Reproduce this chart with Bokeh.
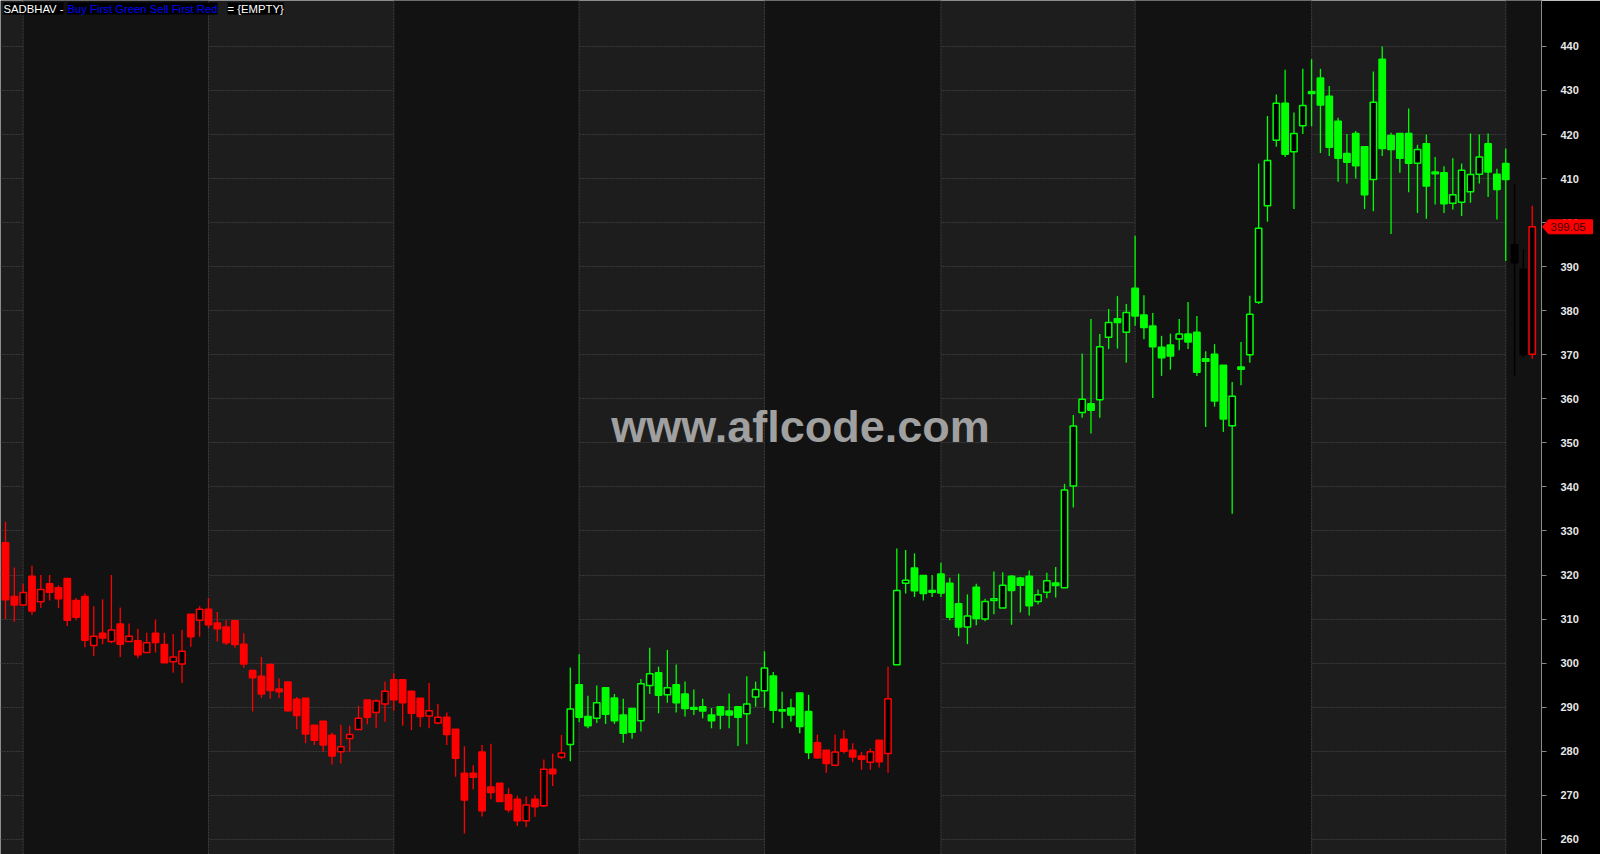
from bokeh.plotting import figure
from bokeh.models import Range1d, FixedTicker, Span, BoxAnnotation, Label, ColumnDataSource
from bokeh.core.properties import value
from bokeh.embed import file_html
from bokeh.resources import INLINE

# ---------------- data ----------------
opens = [327.3,315.1,313.2,319.7,313.9,318.0,317.1,319.2,314.2,315.1,
         304.0,306.8,304.9,308.9,304.9,305.1,302.4,306.8,304.2,300.3,
         299.8,311.1,309.7,312.2,309.1,308.2,309.6,304.3,298.3,297.0,
         299.7,294.1,295.7,291.8,292.0,285.9,286.8,283.6,279.9,282.9,
         284.9,291.6,288.8,290.7,296.2,296.2,293.6,292.0,288.0,286.4,
         287.7,285.0,275.0,275.0,279.8,271.9,272.7,270.1,269.1,264.2,
         269.1,267.6,275.9,278.6,281.5,295.1,287.9,287.5,294.4,292.1,
         288.2,289.7,286.9,294.9,297.8,292.8,295.1,293.0,289.9,290.1,
         288.2,290.1,289.1,290.1,288.5,292.3,293.7,297.1,289.4,289.8,
         293.2,289.0,281.9,280.2,276.8,282.7,280.2,278.9,277.5,282.5,
         279.5,299.6,318.1,321.6,319.9,316.5,320.2,318.1,313.5,308.2,
         317.2,310.0,314.2,312.5,319.7,319.3,319.7,314.0,316.1,318.2,
         317.1,340.2,356.9,358.9,359.8,374.0,378.2,375.1,385.1,379.0,
         376.5,371.7,372.2,373.6,374.7,375.1,369.1,370.1,367.6,353.9,
         367.2,370.0,381.9,403.8,418.7,427.1,416.1,422.0,429.7,432.8,
         428.7,423.0,415.7,420.2,417.2,409.8,437.1,419.8,420.2,420.2,
         413.5,417.9,411.5,411.3,404.4,404.6,407.0,411.0,417.9,411.0,
         413.4,395.0,389.4,370.1]
highs = [332.1,321.7,318.0,322.1,320.0,320.0,317.7,319.2,314.8,315.8,
         312.9,314.5,320.0,312.6,309.0,307.8,306.9,309.9,306.9,306.6,
         307.5,311.1,312.9,314.8,311.6,309.7,309.6,306.8,298.5,301.4,
         299.7,296.5,295.7,292.3,292.0,285.9,286.8,284.2,286.0,285.8,
         290.3,291.6,291.8,295.8,297.7,296.2,293.7,292.0,295.5,290.7,
         288.8,285.0,281.1,276.8,281.4,281.7,272.7,271.6,269.9,269.7,
         270.0,278.1,279.4,283.7,299.0,302.0,292.6,294.9,294.4,293.0,
         291.9,289.7,296.4,303.5,299.2,303.0,299.7,295.8,294.0,291.9,
         289.8,290.1,293.1,290.1,297.0,295.8,302.7,298.0,293.5,291.9,
         293.2,292.8,283.8,280.2,283.8,284.8,281.8,279.8,280.6,282.5,
         299.2,326.0,325.7,324.9,319.9,320.0,322.8,319.4,320.3,315.6,
         318.0,314.6,320.8,320.6,320.0,319.6,321.0,316.7,320.5,321.8,
         340.7,356.3,370.3,378.1,374.7,380.4,383.3,381.5,397.0,383.5,
         379.5,374.3,374.8,378.1,382.0,378.8,370.8,372.4,367.6,363.8,
         372.9,383.4,413.4,424.2,429.1,434.7,425.0,434.9,437.1,434.9,
         431.0,423.8,420.1,420.8,417.2,434.3,440.0,420.4,420.2,425.9,
         417.7,420.0,414.9,412.8,414.6,413.4,420.2,420.0,420.2,412.2,
         416.8,408.8,393.9,403.8]
lows = [310.0,309.4,313.0,311.0,312.5,314.2,312.5,308.4,309.7,303.6,
        301.6,304.3,304.5,301.4,304.8,301.1,302.3,302.4,300.0,297.8,
        295.5,303.7,306.0,307.9,304.9,304.1,303.5,298.9,289.0,292.1,
        291.9,292.1,289.0,285.0,281.8,281.4,279.9,277.0,277.2,279.9,
        284.8,286.1,285.2,286.7,289.2,285.8,284.8,285.5,285.2,286.1,
        281.4,274.2,261.3,271.3,265.2,269.1,268.6,266.1,263.0,262.8,
        265.1,267.4,272.1,278.2,277.7,286.6,285.2,286.4,286.2,286.2,
        281.9,282.8,284.5,293.0,288.6,291.0,288.8,287.9,288.2,287.5,
        285.2,285.0,285.2,281.2,281.6,290.1,289.9,286.4,285.2,286.7,
        284.1,278.2,278.3,275.1,276.6,279.5,277.5,275.8,275.8,276.3,
        275.1,299.6,315.8,315.0,314.2,315.0,315.0,309.7,306.1,304.3,
        308.6,309.5,311.1,312.5,308.7,311.5,310.8,313.3,314.7,314.9,
        317.1,335.3,355.7,352.1,355.7,371.3,371.4,368.2,376.6,373.5,
        360.2,365.2,366.6,371.0,371.3,365.2,353.6,358.2,352.5,333.9,
        363.1,368.2,381.5,400.2,417.2,414.9,403.1,420.1,421.9,415.8,
        415.1,409.3,408.9,410.0,403.1,402.6,415.1,397.4,411.3,406.9,
        402.2,400.9,404.1,402.2,403.0,401.5,404.5,408.9,405.8,400.7,
        391.3,365.2,369.5,369.1]
closes = [314.4,313.2,316.0,311.8,316.7,316.1,314.6,309.7,310.4,305.2,
          306.1,305.7,307.5,304.3,306.1,301.9,304.6,304.7,300.1,301.4,
          302.7,306.0,312.2,308.7,307.8,304.6,304.2,299.8,296.7,293.0,
          293.8,293.5,289.2,288.1,283.9,282.5,281.4,278.9,281.0,283.8,
          287.5,287.7,291.4,293.6,291.7,291.0,288.6,287.9,289.2,287.7,
          283.8,278.4,268.9,274.1,266.5,270.6,268.6,266.7,264.2,267.8,
          267.4,275.9,274.9,279.6,289.6,287.7,285.8,291.0,288.4,286.9,
          284.1,284.3,295.3,297.6,292.7,294.4,291.0,289.7,289.5,289.1,
          286.9,288.2,288.2,287.7,290.7,294.0,298.9,289.3,289.1,288.2,
          285.6,279.7,278.5,277.2,279.8,280.0,278.7,278.2,279.9,277.6,
          291.9,316.5,318.8,316.4,315.8,316.1,315.9,310.4,308.2,310.7,
          310.1,314.0,314.6,317.7,316.5,317.7,313.0,315.5,318.7,317.6,
          339.3,353.8,359.9,357.4,371.8,377.3,377.3,379.6,378.8,376.2,
          371.8,369.3,369.7,374.7,372.9,366.0,368.5,359.5,355.4,360.6,
          366.7,379.2,398.7,414.1,427.1,415.5,420.2,426.6,429.3,426.7,
          417.1,414.6,413.7,412.9,406.3,427.3,416.8,416.6,414.6,413.5,
          416.6,408.3,411.1,404.3,406.3,411.9,410.9,414.9,411.5,407.5,
          409.8,390.9,370.0,399.05]
# colour regime runs (colour, number of bars)
regime_runs = [("red", 64), ("green", 28), ("red", 9), ("green", 70), ("black", 2), ("red", 1)]
# bar index of first bar of each month (separator lines)
month_starts = [2, 23, 44, 65, 86, 106, 128, 148, 170]
y_ticks = list(range(260, 450, 10))
ticker_name = "SADBHAV"
last_price = "399.05"

# ---------------- build ----------------
palette = {"red": "#ff0000", "green": "#00ff00", "black": "#000000"}
regimes = []
for c, n in regime_runs:
    regimes += [c] * n
n = len(closes)
idx = list(range(n))
col = [palette[r] for r in regimes]
up = [c > o for o, c in zip(opens, closes)]
top = [max(o, c) for o, c in zip(opens, closes)]
bot = [min(o, c) for o, c in zip(opens, closes)]
fill = [("#000000" if u else cc) for u, cc in zip(up, col)]

src = ColumnDataSource(dict(x=idx, o=opens, h=highs, l=lows, c=closes,
                            top=top, bot=bot, col=col, fill=fill))

W, H = 1600, 854
RB = 59
X0, X1 = -0.567, 174.05
Y0, Y1 = 256.55, 450.42
p = figure(width=W, height=H, output_backend="svg", toolbar_location=None,
           x_range=Range1d(X0, X1), y_range=Range1d(Y0, Y1),
           x_axis_location=None, y_axis_location="right",
           min_border_left=0, min_border_right=RB, min_border_top=0, min_border_bottom=0)
p.background_fill_color = "#1d1d1d"
p.border_fill_color = "#000000"
p.outline_line_color = None

# alternating month bands
edges = [-10] + month_starts + [400]
for k in range(len(edges) - 1):
    if k % 2 == 1:
        p.add_layout(BoxAnnotation(left=edges[k], right=edges[k + 1],
                                   fill_color="#121212", fill_alpha=1.0,
                                   line_color=None, level="underlay"))
for m in month_starts:
    p.add_layout(Span(location=m, dimension="height", line_color="#404040",
                      line_width=1, line_dash="2 1", level="underlay"))

p.xgrid.visible = False
p.ygrid.ticker = FixedTicker(ticks=y_ticks)
p.ygrid.grid_line_color = "#3a3a3a"
p.ygrid.grid_line_dash = "2 1"
p.ygrid.grid_line_width = 1

ax = p.yaxis[0]
ax.ticker = FixedTicker(ticks=y_ticks)
ax.axis_line_color = "#8a8a8a"
ax.axis_line_width = 1
ax.major_tick_line_color = "#8a8a8a"
ax.major_tick_out = 5
ax.major_tick_in = 0
ax.minor_tick_line_color = None
ax.major_label_text_color = "#e8e8e8"
ax.major_label_text_font = "Liberation Sans"
ax.major_label_text_font_size = "11px"
ax.major_label_text_font_style = "bold"
ax.major_label_standoff = 14

# candles
p.segment(x0="x", y0="h", x1="x", y1="l", source=src, line_color="col", line_width=1.3)
p.vbar(x="x", top="top", bottom="bot", width=0.72, source=src,
       fill_color="fill", line_color="col", line_width=1.5)

# title (multi coloured)
fs = "11.3px"
ty = H - 2
p.add_layout(Label(x=3, y=ty, x_units="screen", y_units="screen", text=ticker_name + " -",
                   text_color="#ffffff", text_font="Liberation Sans", text_font_size=fs,
                   text_baseline="top", background_fill_color="#000000"))
p.add_layout(Label(x=67, y=ty, x_units="screen", y_units="screen",
                   text="Buy First Green Sell First Red",
                   text_color="#0000ff", text_font="Liberation Sans", text_font_size=fs,
                   text_baseline="top", background_fill_color="#000000"))
p.add_layout(Label(x=227, y=ty, x_units="screen", y_units="screen", text="= {EMPTY}",
                   text_color="#ffffff", text_font="Liberation Sans", text_font_size=fs,
                   text_baseline="top", background_fill_color="#000000"))

# watermark
p.add_layout(Label(x=800, y=H - 426, x_units="screen", y_units="screen", text="www.aflcode.com",
                   text_color="#a0a0a0", text_font="Liberation Sans", text_font_size="45px",
                   text_font_style="bold", text_align="center", text_baseline="middle"))

# last price tag on the axis (overlay level, drawn over the axis area)
pxx = (W - RB) / (X1 - X0)          # pixels per bar
pxy = H / (Y1 - Y0)                 # pixels per price unit
lc = closes[-1]
hh = 7 / pxy
tag_x = [X1 + 1 / pxx, X1 + 7 / pxx, X1 + 51 / pxx, X1 + 51 / pxx, X1 + 7 / pxx]
tag_y = [lc, lc + hh, lc + hh, lc - hh, lc - hh]
p.patch(tag_x, tag_y, fill_color="#ff0000", line_color="#ff0000", level="overlay")
p.text(x=[X1 + 9 / pxx], y=[lc], text=[last_price], text_color="#3a0000",
       text_font=value("Liberation Sans"), text_font_size="11.5px",
       text_baseline="middle", text_align="left", level="overlay")

open("out.html", "w").write(file_html(p, INLINE))
